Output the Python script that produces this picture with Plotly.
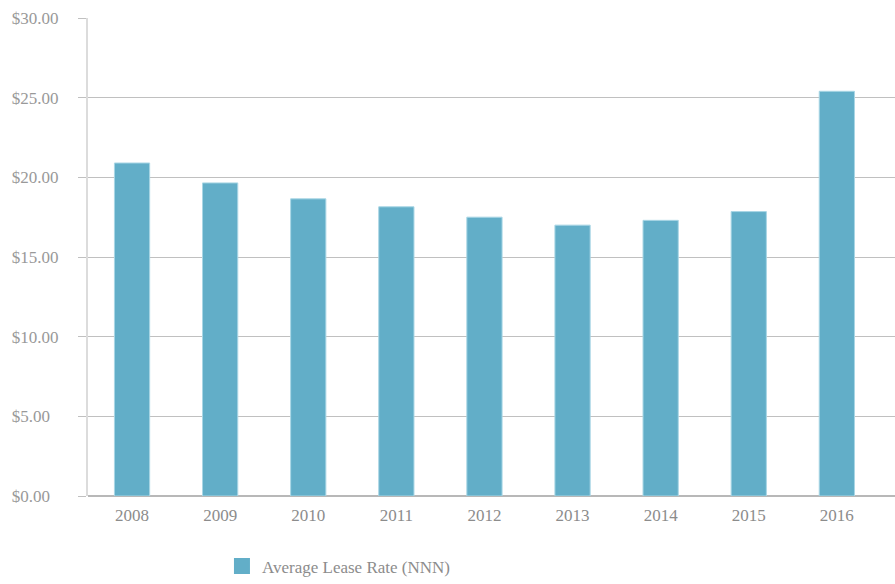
import plotly.graph_objects as go

years = ["2008", "2009", "2010", "2011", "2012", "2013", "2014", "2015", "2016"]
lease_rate = [20.90, 19.65, 18.65, 18.15, 17.50, 17.00, 17.30, 17.85, 25.40]
series_name = "Average Lease Rate (NNN)"
y_ticks = [0, 5, 10, 15, 20, 25, 30]
y_tick_labels = ["$0.00", "$5.00", "$10.00", "$15.00", "$20.00", "$25.00", "$30.00"]

# left-align the tick labels (as in the reference) by padding with figure spaces
max_len = max(len(t) for t in y_tick_labels)
y_tick_text = [t + "\u2007" * (max_len - len(t)) for t in y_tick_labels]

bar_color = "#62aec8"
fig = go.Figure()
fig.add_trace(go.Bar(
    x=list(range(len(years))), y=lease_rate, name=series_name,
    marker=dict(color=bar_color, line=dict(color="#a9d6e5", width=1)),
    width=0.4, showlegend=False,
))
# legend entry with a larger square swatch
fig.add_trace(go.Scatter(
    x=[None], y=[None], mode="markers", name=series_name,
    marker=dict(symbol="square", size=20, color=bar_color),
    showlegend=True,
))

fig.update_layout(
    width=895, height=584,
    margin=dict(l=88, r=0, t=18, b=88, autoexpand=False),
    plot_bgcolor="white", paper_bgcolor="white",
    font=dict(family="Liberation Serif", size=17, color="#999999"),
    xaxis=dict(
        tickmode="array", tickvals=list(range(len(years))), ticktext=years,
        range=[-0.5, 8.66], showgrid=False, zeroline=False,
        showline=False, ticks="", ticklabelstandoff=7,
        tickfont=dict(family="Liberation Serif", size=17, color="#8c8c8c"),
    ),
    yaxis=dict(
        range=[0, 30], tickvals=y_ticks, ticktext=y_tick_text,
        showgrid=True, gridcolor="#c0c0c0", gridwidth=1,
        zeroline=True, zerolinecolor="#b8b8b8", zerolinewidth=1.5,
        showline=True, linecolor="#dcdcdc", linewidth=2,
        ticks="outside", ticklen=8, tickcolor="#c0c0c0", tickwidth=1,
        tickfont=dict(family="Liberation Serif", size=17, color="#999999"),
        ticklabelstandoff=16,
    ),
    legend=dict(orientation="h", x=0.166, y=0.03, xref="paper", yref="container",
                xanchor="left", yanchor="middle", itemsizing="trace",
                font=dict(family="Liberation Serif", size=17, color="#8c8c8c")),
)
fig.write_html("out.html")
